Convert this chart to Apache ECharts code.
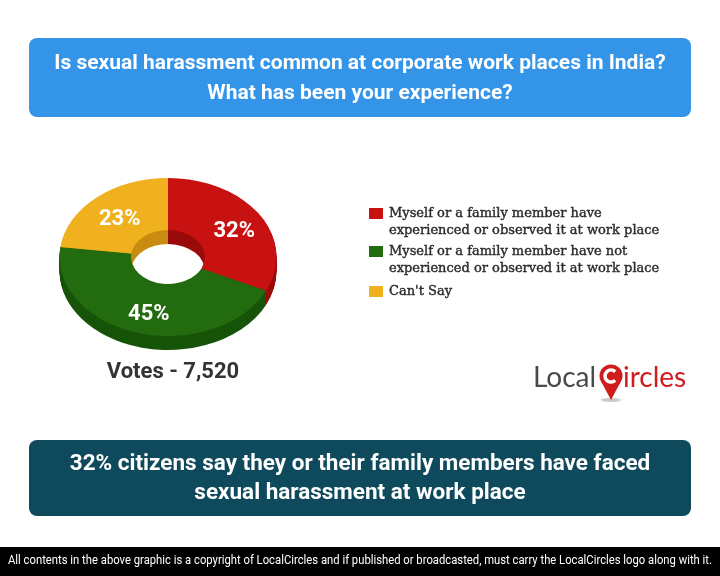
<!DOCTYPE html>
<html><head><meta charset="utf-8">
<script src="https://cdn.jsdelivr.net/npm/echarts@6/dist/echarts.min.js"></script>
<style>html,body{margin:0;padding:0;background:#fff}#c{width:720px;height:576px}</style>
</head><body><div id="c"></div>
<script>
const categories = [
  'Myself or a family member have experienced or observed it at work place',
  'Myself or a family member have not experienced or observed it at work place',
  "Can't Say"
];
const values = [32, 45, 23];
const legendLines = [
  ['Myself or a family member have', 'experienced or observed it at work place'],
  ['Myself or a family member have not', 'experienced or observed it at work place'],
  ["Can't Say"]
];
const topColors = ['#c81111', '#226b0e', '#f0b11e'];
const sideColors = ['#9a0b0b', '#175409', '#c98c12'];
const titleLines = ['Is sexual harassment common at corporate work places in India?', 'What has been your experience?'];
const votesText = 'Votes - 7,520';
const bottomLines = ['32% citizens say they or their family members have faced', 'sexual harassment at work place'];
const footerText = 'All contents in the above graphic is a copyright of LocalCircles and if published or broadcasted, must carry the LocalCircles logo along with it.';

function fitScale(text, font, target) {
  const ctx = document.createElement('canvas').getContext('2d');
  ctx.font = font;
  const w = ctx.measureText(text).width;
  return w > 0 ? target / w : 1;
}

const chart = echarts.init(document.getElementById('c'), null, {renderer: 'canvas'});
const CX = 168, CY = 257, R = 108.5, R0 = 37, K = 0.728, T = 14;
const total = values.reduce((a, b) => a + b, 0);

function renderItem(params, api) {
  const i = params.dataIndex;
  const v = api.value(0);
  let cum = 0;
  for (let j = 0; j < i; j++) cum += values[j];
  const sa = -Math.PI / 2 + 2 * Math.PI * cum / total;
  const ea = sa + 2 * Math.PI * v / total;
  const kids = [];
  for (let t = T; t >= 1; t--) {
    kids.push({type: 'sector', shape: {cx: 0, cy: t / K, r: R, r0: R0, startAngle: sa, endAngle: ea, clockwise: true},
      style: {fill: sideColors[i]}, z2: 1});
  }
  kids.push({type: 'sector', shape: {cx: 0, cy: 0, r: R, r0: R0, startAngle: sa, endAngle: ea, clockwise: true},
    style: {fill: topColors[i]}, z2: 10});
  const mid = (sa + ea) / 2, rl = 76;
  return {type: 'group', children: [
    {type: 'group', x: CX, y: CY, scaleY: K, children: kids},
    {type: 'text', x: CX + rl * Math.cos(mid) + 2, y: CY + rl * K * Math.sin(mid) + 4, z2: 20,
      style: {text: v + '%', fill: '#fff', font: 'bold 22px Roboto', align: 'center', verticalAlign: 'middle'}}
  ]};
}

const footFont = '13px Roboto';
const footScale = fitScale(footerText, footFont, 704);

const graphics = [];
graphics.push({type: 'rect', shape: {x: 29, y: 38, width: 662, height: 79, r: 8}, style: {fill: '#3394e8'}});
graphics.push({type: 'text', x: 360, y: 79, style: {text: titleLines.join('\n'), fill: '#fff', font: 'bold 21px Roboto', lineHeight: 30, align: 'center', verticalAlign: 'middle'}});
// legend
const legendTops = [214, 252, 292];
legendLines.forEach((lines, i) => {
  graphics.push({type: 'rect', shape: {x: 369, y: legendTops[i] - 6, width: 14, height: 11}, style: {fill: topColors[i]}});
  graphics.push({type: 'text', x: 389, y: legendTops[i] - 8.5, style: {text: lines.join('\n'), fill: '#2a2a2a', font: '13px "DejaVu Serif"', lineHeight: 17, align: 'left', verticalAlign: 'top', stroke: '#2a2a2a', lineWidth: 0.4}});
});
graphics.push({type: 'text', x: 173, y: 372, style: {text: votesText, fill: '#333', font: 'bold 22px Roboto', align: 'center', verticalAlign: 'middle'}});
// logo
graphics.push({type: 'text', x: 533, y: 378, style: {text: 'Local', fill: '#4a4a4a', font: '28px Lato', align: 'left', verticalAlign: 'middle'}});
graphics.push({type: 'ellipse', shape: {cx: 611, cy: 400, rx: 10, ry: 2}, style: {fill: '#ccc'}});
graphics.push({type: 'polygon', shape: {points: [[602, 383], [620, 383], [611, 400]]}, style: {fill: '#d01c1c'}});
graphics.push({type: 'circle', shape: {cx: 611, cy: 376, r: 11.5}, style: {fill: '#d01c1c'}});
graphics.push({type: 'arc', shape: {cx: 611, cy: 376, r: 6, startAngle: 0.8, endAngle: -0.8, clockwise: true}, style: {stroke: '#fff', lineWidth: 3.5, fill: null}});
graphics.push({type: 'text', x: 623, y: 378, style: {text: 'ircles', fill: '#d01c1c', font: '28px Lato', align: 'left', verticalAlign: 'middle'}});
// bottom box
graphics.push({type: 'rect', shape: {x: 29, y: 440, width: 662, height: 76, r: 8}, style: {fill: '#0f4a5c'}});
graphics.push({type: 'text', x: 360, y: 478.5, style: {text: bottomLines.join('\n'), fill: '#fff', font: 'bold 22.5px Roboto', lineHeight: 29, align: 'center', verticalAlign: 'middle'}});
// footer
graphics.push({type: 'rect', shape: {x: 0, y: 547, width: 720, height: 29}, style: {fill: '#000'}});
graphics.push({type: 'text', x: 360, y: 561, scaleX: footScale, style: {text: footerText, fill: '#fff', font: footFont, align: 'center', verticalAlign: 'middle'}});

chart.setOption({
  animation: false,
  backgroundColor: '#fff',
  series: [{
    type: 'custom',
    coordinateSystem: 'none',
    renderItem: renderItem,
    data: categories.map((c, i) => ({name: c, value: [values[i]]}))
  }],
  graphic: {elements: graphics}
});
</script></body></html>
